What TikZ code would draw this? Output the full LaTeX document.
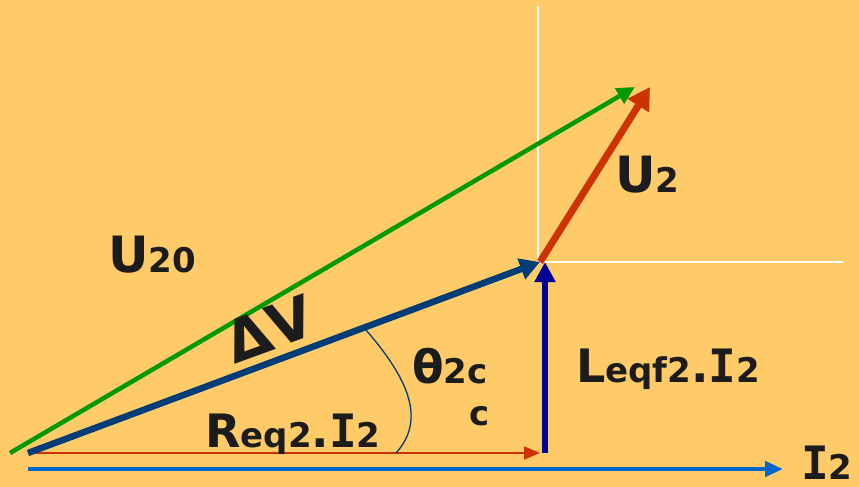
\documentclass[tikz,border=0pt]{standalone}
\usepackage{fontspec}
\setmainfont{DejaVu Sans}
\newfontfamily\monoI{DejaVu Sans Mono}
\usetikzlibrary{arrows.meta}
\definecolor{bg}{HTML}{FECB68}
\definecolor{vgreen}{HTML}{009900}
\definecolor{vdblue}{HTML}{003C78}
\definecolor{vnavy}{HTML}{000099}
\definecolor{vred}{HTML}{CC3300}
\definecolor{vblue}{HTML}{0066CC}
\definecolor{txt}{HTML}{1C1C1C}
\newcommand{\mybigfnt}{\fontsize{46}{50}\selectfont\bfseries}
\newcommand{\mysubt}[1]{{\fontsize{34}{38}\selectfont\bfseries #1}}
\newcommand{\myII}{{\monoI\bfseries I}}
\tikzset{
  lbl/.style={anchor=base west, inner sep=0pt, text=txt, font=\mybigfnt},
}
\begin{document}
\begin{tikzpicture}[x=1pt,y=-1pt]
\useasboundingbox (0,0) rectangle (859,487);
\fill[bg] (0,0) rectangle (859,487);
% coordinates
\coordinate (O) at (28,453);
\coordinate (Og) at (10,453);
\coordinate (P) at (540,262);
\coordinate (H) at (540,453);
\coordinate (G) at (635,87);
\coordinate (R) at (650,87);
\coordinate (Ib0) at (28,469);
\coordinate (Ib) at (783,469);
\coordinate (V0) at (545,453);
\coordinate (V1) at (545,262);
\coordinate (W0) at (538,6);
\coordinate (W1) at (538,262);
\coordinate (W2) at (843,262);
\coordinate (A0) at (366,330);
\coordinate (A1) at (396,453);
% white guide lines
\draw[white, line width=1.5pt] (W0) -- (W1) -- (W2);
% I2
\draw[vblue, line width=4.5pt, -{Triangle[length=18pt,width=15pt]}] (Ib0) -- (Ib);
% Req2.I2
\draw[vred, line width=2pt, -{Triangle[length=16pt,width=13pt]}] (O) -- (H);
% U20
\draw[vgreen, line width=4.5pt, -{Triangle[length=18pt,width=17pt]}] (Og) -- (G);
% Delta V
\draw[vdblue, line width=6.5pt, -{Triangle[length=20pt,width=21pt]}] (O) -- (P);
% Leqf2.I2
\draw[vnavy, line width=6.5pt, -{Triangle[length=20pt,width=20pt]}] (V0) -- (V1);
% U2
\draw[vred, line width=7pt, -{Triangle[length=22pt,width=24pt]}] (P) -- (R);
% angle
\draw[vdblue, line width=1.3pt] (A0) .. controls (405,375) and (428,418) .. (A1);
% labels
\node[lbl] (tU20) at (108,272) {\fontsize{50}{54}\selectfont\bfseries U\mysubt{20}};
\node[lbl, anchor=center, rotate=20] (tDV) at (269,329) {\fontsize{58}{62}\selectfont\bfseries ΔV};
\node[lbl] (tU2) at (615,192) {\fontsize{50}{54}\selectfont\bfseries U\mysubt{2}};
\node[lbl] (tth) at (412,383) {θ\mysubt{2c}};
\node[lbl] (tc) at (469,425) {\mysubt{c}};
\node[lbl] (tReq) at (205,447) {R\mysubt{eq2}.\myII\mysubt{2}};
\node[lbl] (tLeq) at (576,382) {L\mysubt{eqf2}.\myII\mysubt{2}};
\node[lbl] (tI2) at (801,479) {\myII\mysubt{2}};
\end{tikzpicture}
\end{document}
